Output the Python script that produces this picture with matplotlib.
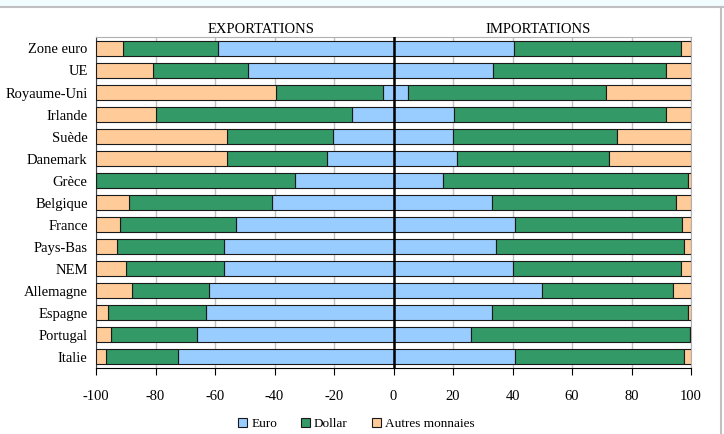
import matplotlib
matplotlib.use("Agg")
import matplotlib.pyplot as plt
import numpy as np
from matplotlib.patches import Patch, Rectangle
from matplotlib.lines import Line2D

plt.rcParams['font.family'] = ['Liberation Serif', 'DejaVu Serif']
plt.rcParams['font.size'] = 10
plt.rcParams['axes.unicode_minus'] = False

# data (percentages)
pays = ['Zone euro', 'UE', 'Royaume-Uni', 'Irlande', 'Suède', 'Danemark', 'Grèce',
        'Belgique', 'France', 'Pays-Bas', 'NEM', 'Allemagne', 'Espagne', 'Portugal', 'Italie']

exp_euro = [59, 49, 3.5, 14, 20.5, 22.5, 33, 41, 53, 57, 57, 62, 63, 66, 72.5]
exp_dollar = [32, 32, 36, 66, 35.5, 33.5, 67, 48, 39, 36, 33, 26, 33, 29, 24]
exp_autres = [9, 19, 60.5, 20, 44, 44, 0, 11, 8, 7, 10, 12, 4, 5, 3.5]

imp_euro = [40.5, 33.5, 5, 20.5, 20, 21.5, 16.5, 33, 41, 34.5, 40, 50, 33, 26, 41]
imp_dollar = [56, 58, 66.5, 71, 55, 51, 82.5, 62, 56, 63, 56.5, 44, 66, 73.5, 56.5]
imp_autres = [3.5, 8.5, 28.5, 8.5, 25, 27.5, 1, 5, 3, 2.5, 3.5, 6, 1, 0.5, 2.5]

series = ['Euro', 'Dollar', 'Autres monnaies']
colors = ['#99CCFF', '#339966', '#FFCC99']

fig = plt.figure(figsize=(7.24, 4.34), dpi=100)
ax = fig.add_axes([96/724, 1-368/434, 595/724, 331/434])

y = np.arange(len(pays))
h = 0.68
ee = np.array(exp_euro)
ed = np.array(exp_dollar)
ea = np.array(exp_autres)
ie = np.array(imp_euro)
idl = np.array(imp_dollar)
ia = np.array(imp_autres)

kw = dict(height=h, edgecolor='#1a1a1a', linewidth=0.8, zorder=3)
# exportations to the left (negative)
ax.barh(y, -ee, left=0, color=colors[0], **kw)
ax.barh(y, -ed, left=-ee, color=colors[1], **kw)
ax.barh(y, -ea, left=-(ee+ed), color=colors[2], **kw)
# importations to the right
ax.barh(y, ie, left=0, color=colors[0], **kw)
ax.barh(y, idl, left=ie, color=colors[1], **kw)
ax.barh(y, ia, left=ie+idl, color=colors[2], **kw)

ax.axvline(0, color='black', linewidth=1.8, zorder=4)

ax.set_xlim(-100, 100)
ax.set_ylim(len(pays)-0.5, -0.52)
ax.set_xticks(np.arange(-100, 101, 20))
ax.set_yticks(y)
ax.set_yticklabels(pays)
ax.tick_params(axis='y', length=0, pad=6, labelsize=10.5)
ax.tick_params(axis='x', length=5, width=0.8, direction='out', pad=11, labelsize=10.5)
ax.grid(axis='x', color='#c0c0c0', linewidth=1, zorder=0)
ax.set_axisbelow(True)

for s in ['top', 'right']:
    ax.spines[s].set_color('#b0b0b0')
ax.spines['left'].set_color('#404040')
ax.spines['bottom'].set_color('black')

ax.text(-44.5, -0.85, 'EXPORTATIONS', ha='center', va='center', fontsize=10.5)
ax.text(48.6, -0.85, 'IMPORTATIONS', ha='center', va='center', fontsize=10.5)

handles = [Patch(facecolor=c, edgecolor='#1a1a1a', linewidth=0.8) for c in colors]
fig.legend(handles, series, loc='center', bbox_to_anchor=(0.492, 1-424/434), ncol=3,
           frameon=False, handlelength=0.7, handleheight=0.7, handletextpad=0.3,
           columnspacing=1.8, fontsize=9.5)

# frame decoration of the original image
fig.add_artist(Rectangle((0, 1-6/434), 1, 6/434, transform=fig.transFigure,
                         facecolor='#f0fcff', edgecolor='none'))
fig.add_artist(Line2D([0, 1], [1-6.5/434, 1-6.5/434], transform=fig.transFigure,
                      color='#c0c0c0', linewidth=1.5))
fig.add_artist(Line2D([721/724, 721/724], [0, 1-6.5/434], transform=fig.transFigure,
                      color='#c0c0c0', linewidth=1.5))

fig.savefig('out.png', dpi=100)
